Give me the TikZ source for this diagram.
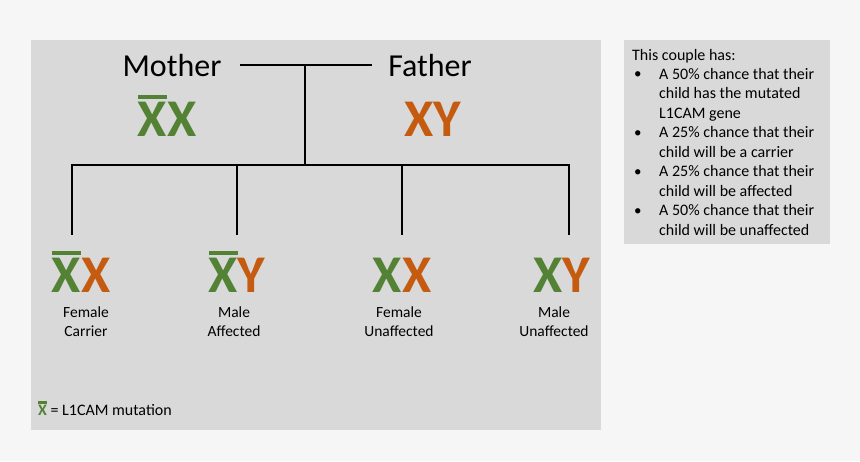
\documentclass[tikz,border=0pt]{standalone}
\usepackage{fontspec}
\setmainfont{Carlito}
\definecolor{gx}{HTML}{548235}
\definecolor{ox}{HTML}{C55A11}
\definecolor{panel}{HTML}{D9D9D9}
\definecolor{page}{HTML}{F6F6F6}
\newlength\mutxw
\newcommand{\mutX}[1][0.075em]{\settowidth{\mutxw}{X}\rlap{\rule[0.7em]{\mutxw}{#1}}X}
\newcommand{\infobullet}{\hspace{2pt}\raisebox{0.6pt}{\fontsize{15}{15}\selectfont\textbullet}}
\begin{document}
\begin{tikzpicture}[x=1pt,y=-1pt,
  link/.style={line width=2.8pt,black},
  parent/.style={font=\fontsize{32}{38}\selectfont, anchor=base, inner sep=0pt},
  gene/.style={font=\bfseries\fontsize{53}{60}\selectfont, anchor=base, inner sep=0pt},
  lab/.style={font=\fontsize{15.5}{19.5}\selectfont, align=center, anchor=base, inner sep=0pt}]
\fill[page] (0,0) rectangle (860,461);
\useasboundingbox (0,0) rectangle (860,461);
\fill[panel] (31,40) rectangle (601,430);
\fill[panel] (624,40) rectangle (830,244);

% parents
\node[parent] (mother) at (172,76) {Mother};
\node[parent] (father) at (430,76) {Father};
\node[gene] (mxx) at (167,136) {\color{gx}\mutX X};
\node[gene] (fxy) at (433,136) {\color{ox}XY};

% connectors
\coordinate (ml) at (240,65);
\coordinate (fr) at (372,65);
\coordinate (top) at (305,65);
\coordinate (hub) at (305,165);
\coordinate (d1) at (72,165);  \coordinate (e1) at (72,235);
\coordinate (d2) at (237,165); \coordinate (e2) at (237,235);
\coordinate (d3) at (402,165); \coordinate (e3) at (402,235);
\coordinate (d4) at (569,165); \coordinate (e4) at (569,235);
\draw[link] (ml) -- (fr);
\draw[link] (top) -- (hub);
\draw[link] (e1) -- (d1) -- (d4) -- (e4);
\draw[link] (d2) -- (e2);
\draw[link] (d3) -- (e3);

% children
\node[gene] (c1) at (81,292) {\color{gx}\mutX\color{ox}X};
\node[gene] (c2) at (237,292) {\color{gx}\mutX\color{ox}Y};
\node[gene] (c3) at (402,292) {\color{gx}X\color{ox}X};
\node[gene] (c4) at (562,292) {\color{gx}X\color{ox}Y};
\node[lab] (l1) at (86,336.5) {Female\\Carrier};
\node[lab] (l2) at (234,336.5) {Male\\Affected};
\node[lab] (l3) at (399,336.5) {Female\\Unaffected};
\node[lab] (l4) at (554,336.5) {Male\\Unaffected};

% legend
\node[anchor=base west, inner sep=0pt, font=\fontsize{16}{19}\selectfont] (legend) at (38,415)
  {{\bfseries\color{gx}\mutX[2.5pt]} = L1CAM mutation};

% info box
\node[anchor=base west, inner sep=0pt, font=\fontsize{16}{19.45}\selectfont] (info) at (632,60)
  {\begin{tabular}[t]{@{}p{27pt}@{}l@{}}
   \multicolumn{2}{@{}l@{}}{This couple has:}\\
   \infobullet & A 50\% chance that their\\
   & child has the mutated\\
   & L1CAM gene\\
   \infobullet & A 25\% chance that their\\
   & child will be a carrier\\
   \infobullet & A 25\% chance that their\\
   & child will be affected\\
   \infobullet & A 50\% chance that their\\
   & child will be unaffected
   \end{tabular}};
\end{tikzpicture}
\end{document}
